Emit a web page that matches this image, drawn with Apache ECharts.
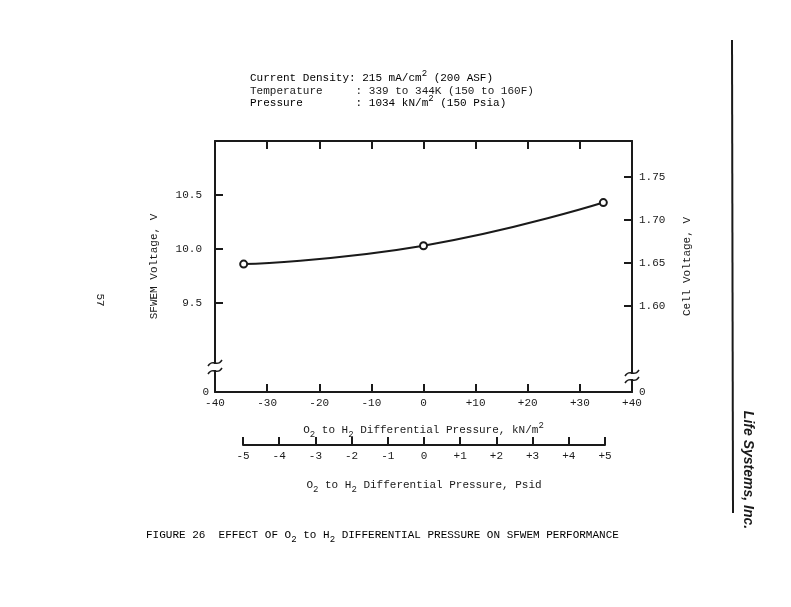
<!DOCTYPE html>
<html>
<head>
<meta charset="utf-8">
<script src="https://cdn.jsdelivr.net/npm/echarts@6/dist/echarts.min.js"></script>
<style>
  html, body { margin: 0; padding: 0; background: #fff; }
  #chart { width: 791px; height: 607px; }
</style>
</head>
<body>
<div id="chart"></div>
<script>
// data
const pressureKPa = [-34.5, 0, 34.5];
const sfwemVoltage = [9.86, 10.03, 10.43];
const leftTicks = [9.5, 10.0, 10.5];
const rightTicks = [1.60, 1.65, 1.70, 1.75];
const kpaTicks = [-40, -30, -20, -10, 0, 10, 20, 30, 40];
const psiTicks = [-5, -4, -3, -2, -1, 0, 1, 2, 3, 4, 5];

const FONT = '"Liberation Mono", "DejaVu Sans Mono", monospace';
const INK = '#1a1a1a';
const LEFT_MIN = 8.676, LEFT_MAX = 11.0;
const RIGHT_MIN = 1.5, RIGHT_MAX = 1.792;

const signed = v => (v > 0 ? '+' + v : '' + v);
const rich = {
  t: { fontFamily: FONT, fontSize: 11, color: INK, lineHeight: 16 },
  s: { fontFamily: FONT, fontSize: 9, color: INK, lineHeight: 16, padding: [9, 0, 0, 0] },
  p: { fontFamily: FONT, fontSize: 9, color: INK, lineHeight: 16, padding: [0, 0, 9, 0] },
  n: { fontFamily: FONT, fontSize: 11, color: INK, padding: [0, 7, 0, 0] },
  z: { fontFamily: FONT, fontSize: 11, color: INK }
};

const axisLine = { onZero: false, lineStyle: { color: INK, width: 2 } };
const tick = { inside: true, length: 8, lineStyle: { color: INK, width: 2 } };

const chart = echarts.init(document.getElementById('chart'));

function tilde(x, y) {
  return {
    type: 'bezierCurve', z: 100,
    shape: { x1: x - 7, y1: y + 3, x2: x + 7, y2: y - 3, cpx1: x - 2, cpy1: y - 5, cpx2: x + 2, cpy2: y + 5 },
    style: { stroke: INK, lineWidth: 1.5, fill: null }
  };
}

chart.setOption({
  backgroundColor: '#fff',
  animation: false,
  grid: [
    { left: 215, right: 159, top: 141, bottom: 215 },
    { left: 243, right: 186, top: 444, height: 1 }
  ],
  xAxis: [
    {
      gridIndex: 0, type: 'value', min: -40, max: 40, interval: 10, position: 'bottom',
      axisLine, axisTick: tick, splitLine: { show: false },
      axisLabel: { fontFamily: FONT, fontSize: 11, color: INK, margin: 6, formatter: signed },
      name: '{t|O}{s|2}{t| to H}{s|2}{t| Differential Pressure, kN/m}{p|2}',
      nameLocation: 'middle', nameGap: 30, nameTextStyle: { rich }
    },
    {
      gridIndex: 0, type: 'value', min: -40, max: 40, interval: 10, position: 'top',
      axisLine, axisTick: tick, axisLabel: { show: false }, splitLine: { show: false }
    },
    {
      gridIndex: 1, type: 'value', min: -5, max: 5, interval: 1, position: 'bottom',
      axisLine, axisTick: tick, splitLine: { show: false },
      axisLabel: { fontFamily: FONT, fontSize: 11, color: INK, margin: 6, formatter: signed },
      name: '{t|O}{s|2}{t| to H}{s|2}{t| Differential Pressure, Psid}',
      nameLocation: 'middle', nameGap: 32, nameTextStyle: { rich }
    }
  ],
  yAxis: [
    {
      gridIndex: 0, type: 'value', min: LEFT_MIN, max: LEFT_MAX, position: 'left',
      axisLine: { show: true, onZero: false, lineStyle: { color: INK, width: 2 } },
      axisTick: Object.assign({ customValues: leftTicks }, tick), splitLine: { show: false },
      axisLabel: {
        customValues: [LEFT_MIN].concat(leftTicks), margin: 6,
        formatter: v => (v === LEFT_MIN ? '{z|0}' : '{n|' + v.toFixed(1) + '}'), rich
      },
      name: 'SFWEM Voltage, V', nameLocation: 'middle', nameGap: 55, nameRotate: 90,
      nameTextStyle: { fontFamily: FONT, fontSize: 11, color: INK }
    },
    {
      gridIndex: 0, type: 'value', min: RIGHT_MIN, max: RIGHT_MAX, position: 'right',
      axisLine: { show: true, onZero: false, lineStyle: { color: INK, width: 2 } },
      axisTick: Object.assign({ customValues: rightTicks }, tick), splitLine: { show: false },
      axisLabel: {
        customValues: [RIGHT_MIN].concat(rightTicks), margin: 7,
        formatter: v => (v === RIGHT_MIN ? '0' : v.toFixed(2)),
        fontFamily: FONT, fontSize: 11, color: INK
      },
      name: 'Cell Voltage, V', nameLocation: 'middle', nameGap: 50, nameRotate: 90,
      nameTextStyle: { fontFamily: FONT, fontSize: 11, color: INK }
    },
    { gridIndex: 1, type: 'value', show: false }
  ],
  series: [{
    type: 'line', xAxisIndex: 0, yAxisIndex: 0,
    data: pressureKPa.map((x, i) => [x, sfwemVoltage[i]]),
    smooth: true, symbol: 'emptyCircle', symbolSize: 7,
    lineStyle: { color: INK, width: 2 },
    itemStyle: { color: INK, borderColor: INK, borderWidth: 1 }
  }],
  graphic: [
    { type: 'rect', z: 99, shape: { x: 209, y: 364, width: 12, height: 6 }, style: { fill: '#fff' } },
    tilde(215, 363), tilde(215, 371),
    { type: 'rect', z: 99, shape: { x: 626, y: 374, width: 12, height: 5 }, style: { fill: '#fff' } },
    tilde(632, 373), tilde(632, 380),
    {
      type: 'text', x: 250, y: 78,
      style: { text: '{t|Current Density: 215 mA/cm}{p|2}{t| (200 ASF)}', rich, verticalAlign: 'middle' }
    },
    {
      type: 'text', x: 250, y: 91,
      style: { text: 'Temperature     : 339 to 344K (150 to 160F)', fontFamily: FONT, fontSize: 11, fill: INK, verticalAlign: 'middle' }
    },
    {
      type: 'text', x: 250, y: 103,
      style: { text: '{t|Pressure        : 1034 kN/m}{p|2}{t| (150 Psia)}', rich, verticalAlign: 'middle' }
    },
    {
      type: 'text', left: 146, top: 526,
      style: { text: '{t|FIGURE 26  EFFECT OF O}{s|2}{t| to H}{s|2}{t| DIFFERENTIAL PRESSURE ON SFWEM PERFORMANCE}', rich }
    },
    {
      type: 'text', x: 100, y: 300, rotation: -Math.PI / 2,
      style: { text: '57', fontFamily: FONT, fontSize: 11, fill: INK, align: 'center', verticalAlign: 'middle' }
    },
    {
      type: 'line', shape: { x1: 732, y1: 40, x2: 733, y2: 513 },
      style: { stroke: INK, lineWidth: 2 }
    },
    {
      type: 'text', x: 748, y: 470, rotation: -Math.PI / 2,
      style: {
        text: 'Life Systems, Inc.', fontFamily: '"Liberation Sans Narrow", "Liberation Sans", sans-serif',
        fontStyle: 'italic', fontWeight: 'bold', fontSize: 14, fill: INK, align: 'center', verticalAlign: 'middle'
      }
    }
  ]
});
</script>
</body>
</html>
